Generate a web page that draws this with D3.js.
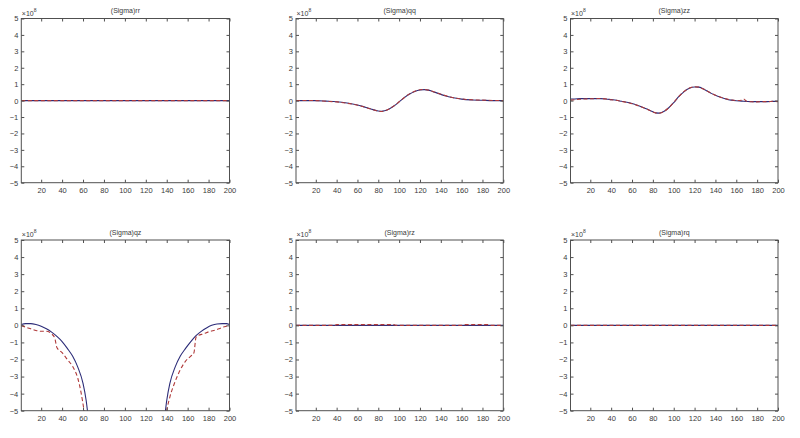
<!DOCTYPE html>
<html><head><meta charset="utf-8">
<script src="https://cdn.jsdelivr.net/npm/d3@7"></script>
<style>
html,body{margin:0;padding:0;background:#fff;}
svg{display:block;font-family:"Liberation Sans",Arial,sans-serif;-webkit-font-smoothing:antialiased;}
</style></head>
<body><svg id="c" width="800" height="438"></svg>
<script>
// ---------------- data (values in units of 1e8) ----------------
const titles = ["(Sigma)rr","(Sigma)qq","(Sigma)zz","(Sigma)qz","(Sigma)rz","(Sigma)rq"];
const xTicks = [20,40,60,80,100,120,140,160,180,200];
const yTicks = [-5,-4,-3,-2,-1,0,1,2,3,4,5];

const rrX = [1,50,100,150,200];
const rrSolid = [0,0,0,0,0];
const rrDashed = [0,0,0,0,0];

const qqX = [1,10,20,30,40,50,60,65,70,75,80,83,86,90,95,100,105,110,115,120,124,128,132,136,140,145,150,155,160,170,180,190,200];
const qqSolid = [0,0,0,-0.03,-0.07,-0.15,-0.27,-0.35,-0.45,-0.55,-0.63,-0.65,-0.62,-0.52,-0.33,-0.08,0.18,0.4,0.56,0.65,0.67,0.64,0.56,0.47,0.38,0.28,0.2,0.14,0.09,0.04,0.02,0,0];
const qqDashed = [0,0.01,0,-0.04,-0.08,-0.16,-0.28,-0.36,-0.46,-0.56,-0.64,-0.66,-0.63,-0.52,-0.32,-0.07,0.19,0.41,0.57,0.66,0.68,0.64,0.57,0.48,0.39,0.29,0.2,0.14,0.1,0.05,0.03,0.01,0];

const zzX = [1,5,10,15,20,25,30,35,40,45,50,55,60,65,70,75,80,83,86,90,95,100,105,110,115,120,124,128,132,136,140,145,150,155,160,165,167,170,175,180,185,190,195,200];
const zzSolid = [0.1,0.1,0.12,0.12,0.12,0.12,0.12,0.1,0.06,0.02,-0.04,-0.1,-0.18,-0.28,-0.4,-0.53,-0.68,-0.75,-0.76,-0.68,-0.45,-0.12,0.25,0.55,0.75,0.83,0.82,0.72,0.58,0.44,0.32,0.2,0.1,0.03,-0.01,-0.03,-0.04,-0.05,-0.06,-0.06,-0.06,-0.06,-0.05,-0.05];
const zzDashed = [0.02,0.05,0.08,0.1,0.11,0.12,0.13,0.1,0.05,0.02,-0.05,-0.11,-0.19,-0.29,-0.41,-0.54,-0.69,-0.76,-0.77,-0.68,-0.45,-0.11,0.26,0.56,0.76,0.84,0.82,0.72,0.58,0.45,0.33,0.21,0.11,0.04,0.0,0.02,0.1,-0.04,-0.07,-0.08,-0.06,-0.07,-0.04,-0.06];

const qzX1 = [1,5,10,15,20,25,30,35,40,45,50,55,60,63,65];
const qzSolid1 = [0.05,0.1,0.1,0.05,-0.05,-0.2,-0.4,-0.65,-0.95,-1.35,-1.8,-2.45,-3.4,-4.4,-5.4];
const qzX2 = [138,140,143,148,153,158,163,168,173,178,183,188,193,197,200];
const qzSolid2 = [-5.4,-4.4,-3.4,-2.45,-1.8,-1.35,-0.95,-0.6,-0.35,-0.15,0,0.08,0.1,0.1,0.05];
const qzDX1 = [1,5,10,15,20,25,30,33,35,40,45,50,55,58,61,62];
const qzDashed1 = [0,-0.1,-0.2,-0.3,-0.35,-0.35,-0.5,-0.75,-1.3,-1.6,-2.0,-2.4,-3.1,-3.9,-5.0,-5.4];
const qzDX2 = [139,140,143,148,153,158,163,166,168,170,175,180,185,190,195,200];
const qzDashed2 = [-5.4,-5.0,-4.2,-3.3,-2.6,-2.1,-1.8,-1.6,-0.7,-0.6,-0.5,-0.38,-0.3,-0.2,-0.08,0];

const rzX = [1,20,38,40,60,80,95,97,120,140,160,162,180,185,187,200];
const rzSolid = [0,0,0,0,0,0,0,0,0,0,0,0,0,0,0,0];
const rzDashed = [0,0,0,0.04,0.04,0.04,0.04,0,0,0,0,0.04,0.04,0.04,0,0];

const rqX = [1,50,100,150,200];
const rqSolid = [0,0,0,0,0];
const rqDashed = [0,0,0,0,0];

// ---------------- layout ----------------
const colsX = [[21.3,229.5],[296,503.3],[570.5,778]];
const rowsY = [[18.5,182.7],[240,410.7]];
const panels = [
  {t:0, c:0, r:0, solid:[[rrX,rrSolid]], dashed:[[rrX,rrDashed]]},
  {t:1, c:1, r:0, solid:[[qqX,qqSolid]], dashed:[[qqX,qqDashed]]},
  {t:2, c:2, r:0, solid:[[zzX,zzSolid]], dashed:[[zzX,zzDashed]]},
  {t:3, c:0, r:1, solid:[[qzX1,qzSolid1],[qzX2,qzSolid2]], dashed:[[qzDX1,qzDashed1],[qzDX2,qzDashed2]]},
  {t:4, c:1, r:1, solid:[[rzX,rzSolid]], dashed:[[rzX,rzDashed]]},
  {t:5, c:2, r:1, solid:[[rqX,rqSolid]], dashed:[[rqX,rqDashed]]}
];

const svg = d3.select("#c");
const axisColor = "#505050";
const textColor = "#3a3a3a";
const solidColor = "#2c2c78";
const dashColor = "#b03a3a";

panels.forEach((p,i) => {
  const [x0,x1] = colsX[p.c];
  const [y0,y1] = rowsY[p.r];
  const x = d3.scaleLinear().domain([1,200]).range([x0,x1]);
  const y = d3.scaleLinear().domain([-5,5]).range([y1,y0]);
  const g = svg.append("g");
  const clipId = "clip"+i;
  svg.append("clipPath").attr("id",clipId).append("rect")
    .attr("x",x0).attr("y",y0).attr("width",x1-x0).attr("height",y1-y0);

  const line = d3.line().x(d=>x(d[0])).y(d=>y(d[1])).curve(d3.curveMonotoneX);
  const lg = g.append("g").attr("clip-path","url(#"+clipId+")");
  p.solid.forEach(([xs,ys]) => {
    lg.append("path").datum(xs.map((v,k)=>[v,ys[k]]))
      .attr("d",line).attr("fill","none").attr("stroke",solidColor).attr("stroke-width",1.1);
  });
  p.dashed.forEach(([xs,ys]) => {
    lg.append("path").datum(xs.map((v,k)=>[v,ys[k]]))
      .attr("d",line).attr("fill","none").attr("stroke",dashColor).attr("stroke-width",1.1)
      .attr("stroke-dasharray","4,2.5");
  });

  // axes
  const fmt = d3.format("d");
  const ab = g.append("g").attr("transform",`translate(0,${y1})`)
    .call(d3.axisBottom(x).tickValues(xTicks).tickFormat(fmt).tickSizeInner(-3).tickSizeOuter(0).tickPadding(5));
  const at = g.append("g").attr("transform",`translate(0,${y0})`)
    .call(d3.axisTop(x).tickValues(xTicks).tickFormat("").tickSizeInner(-3).tickSizeOuter(0));
  const al = g.append("g").attr("transform",`translate(${x0},0)`)
    .call(d3.axisLeft(y).tickValues(yTicks).tickFormat(fmt).tickSizeInner(-3).tickSizeOuter(0).tickPadding(3));
  const ar = g.append("g").attr("transform",`translate(${x1},0)`)
    .call(d3.axisRight(y).tickValues(yTicks).tickFormat("").tickSizeInner(-3).tickSizeOuter(0));
  [ab,at,al,ar].forEach(a => {
    a.select(".domain").remove();
    a.selectAll(".tick line").attr("stroke",axisColor);
    a.selectAll("text").attr("fill",textColor).style("font-size","7.5px").style("font-family","'Liberation Sans',Arial,sans-serif");
  });
  g.append("rect").attr("x",x0).attr("y",y0).attr("width",x1-x0).attr("height",y1-y0)
    .attr("fill","none").attr("stroke",axisColor).attr("stroke-width",1);

  // exponent label
  const ex = g.append("text").attr("x",x0+0.5).attr("y",y0-3).attr("fill",textColor)
    .style("font-size","7px");
  ex.append("tspan").text("\u00d710");
  ex.append("tspan").attr("dy",-4).style("font-size","5px").text("8");

  // title
  g.append("text").attr("x",(x0+x1)/2).attr("y",y0-5.5).attr("text-anchor","middle")
    .attr("fill",textColor).style("font-size","7px").text(titles[p.t]);
});
</script>
</body></html>
